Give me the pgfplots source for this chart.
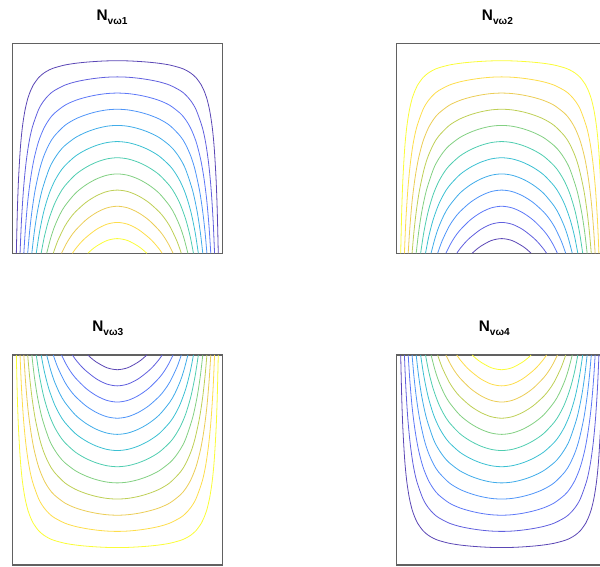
\documentclass[border=0pt]{standalone}
\usepackage{fontspec}
\setmainfont{Liberation Sans}
\usepackage{pgfplots}
\pgfplotsset{compat=1.18}
\definecolor{axgray}{rgb}{0.38,0.38,0.38}
\definecolor{qa1}{rgb}{0.2422,0.1504,0.6603}
\definecolor{qa2}{rgb}{0.2669,0.2601,0.8496}
\definecolor{qa3}{rgb}{0.253,0.379,0.961}
\definecolor{qa4}{rgb}{0.188,0.510,0.967}
\definecolor{qa5}{rgb}{0.119,0.619,0.898}
\definecolor{qa6}{rgb}{0.096,0.711,0.794}
\definecolor{qa7}{rgb}{0.189,0.768,0.637}
\definecolor{qa8}{rgb}{0.424,0.782,0.424}
\definecolor{qa9}{rgb}{0.702,0.778,0.222}
\definecolor{qa10}{rgb}{0.908,0.770,0.221}
\definecolor{qa11}{rgb}{0.990,0.845,0.169}
\definecolor{qa12}{rgb}{0.9769,0.9839,0.0805}
\colorlet{pa1}{qa1!85!white}\colorlet{pa2}{qa2!85!white}\colorlet{pa3}{qa3!85!white}
\colorlet{pa4}{qa4!85!white}\colorlet{pa5}{qa5!85!white}\colorlet{pa6}{qa6!85!white}
\colorlet{pa7}{qa7!85!white}\colorlet{pa8}{qa8!85!white}\colorlet{pa9}{qa9!85!white}
\colorlet{pa10}{qa10!85!white}\colorlet{pa11}{qa11!85!white}\colorlet{pa12}{qa12!85!white}
\colorlet{pb1}{pa12}\colorlet{pb2}{pa11}\colorlet{pb3}{pa10}\colorlet{pb4}{pa9}
\colorlet{pb5}{pa8}\colorlet{pb6}{pa7}\colorlet{pb7}{pa6}\colorlet{pb8}{pa5}
\colorlet{pb9}{pa4}\colorlet{pb10}{pa3}\colorlet{pb11}{pa2}\colorlet{pb12}{pa1}
\newcommand{\contours}[1]{%
\addplot[color=#11] coordinates {(0.0192,0) (0.0240,0.2) (0.0295,0.35) (0.0383,0.5) (0.0479,0.6) (0.0602,0.68) (0.0745,0.74) (0.0895,0.78) (0.1,0.8015) (0.125,0.8361) (0.15,0.858) (0.175,0.8728) (0.2,0.8831) (0.25,0.8965) (0.3,0.9046) (0.35,0.91) (0.4,0.9137) (0.45,0.9162) (0.5,0.917) (0.55,0.9162) (0.6,0.9137) (0.65,0.91) (0.7,0.9046) (0.75,0.8965) (0.8,0.8831) (0.825,0.8728) (0.85,0.858) (0.875,0.8361) (0.9,0.8015) (0.9105,0.78) (0.9255,0.74) (0.9398,0.68) (0.9521,0.6) (0.9617,0.5) (0.9705,0.35) (0.976,0.2) (0.9808,0)};
\addplot[color=#12] coordinates {(0.0369,0) (0.0434,0.15) (0.0529,0.3) (0.0642,0.42) (0.0781,0.52) (0.0953,0.6) (0.125,0.684) (0.15,0.7262) (0.175,0.7548) (0.2,0.7747) (0.25,0.8006) (0.3,0.8162) (0.35,0.8264) (0.4,0.8337) (0.45,0.8384) (0.5,0.84) (0.55,0.8384) (0.6,0.8337) (0.65,0.8264) (0.7,0.8162) (0.75,0.8006) (0.8,0.7747) (0.825,0.7548) (0.85,0.7262) (0.875,0.684) (0.9047,0.6) (0.9219,0.52) (0.9358,0.42) (0.9471,0.3) (0.9566,0.15) (0.9631,0)};
\addplot[color=#13] coordinates {(0.0549,0) (0.0626,0.12) (0.0738,0.25) (0.0877,0.36) (0.1036,0.45) (0.125,0.532) (0.15,0.5945) (0.175,0.6367) (0.2,0.6663) (0.25,0.7046) (0.3,0.7277) (0.35,0.7429) (0.4,0.7537) (0.45,0.7606) (0.5,0.763) (0.55,0.7606) (0.6,0.7537) (0.65,0.7429) (0.7,0.7277) (0.75,0.7046) (0.8,0.6663) (0.825,0.6367) (0.85,0.5945) (0.875,0.532) (0.8964,0.45) (0.9123,0.36) (0.9262,0.25) (0.9374,0.12) (0.9451,0)};
\addplot[color=#14] coordinates {(0.0733,0) (0.0821,0.1) (0.0934,0.2) (0.1086,0.3) (0.1304,0.4) (0.15,0.4627) (0.175,0.5187) (0.2,0.5579) (0.25,0.6086) (0.3,0.6392) (0.35,0.6594) (0.4,0.6737) (0.45,0.6828) (0.5,0.686) (0.55,0.6828) (0.6,0.6737) (0.65,0.6594) (0.7,0.6392) (0.75,0.6086) (0.8,0.5579) (0.825,0.5187) (0.85,0.4627) (0.8696,0.4) (0.8914,0.3) (0.9066,0.2) (0.9179,0.1) (0.9267,0)};
\addplot[color=#15] coordinates {(0.0930,0) (0.1046,0.1) (0.12,0.2) (0.1417,0.3) (0.175,0.4007) (0.2,0.4495) (0.225,0.4854) (0.25,0.5127) (0.3,0.5507) (0.35,0.5759) (0.4,0.5936) (0.45,0.605) (0.5,0.609) (0.55,0.605) (0.6,0.5936) (0.65,0.5759) (0.7,0.5507) (0.75,0.5127) (0.775,0.4854) (0.8,0.4495) (0.825,0.4007) (0.8583,0.3) (0.88,0.2) (0.8954,0.1) (0.907,0)};
\addplot[color=#16] coordinates {(0.1141,0) (0.1294,0.1) (0.1502,0.2) (0.175,0.2827) (0.2,0.3411) (0.225,0.384) (0.25,0.4167) (0.3,0.4623) (0.35,0.4924) (0.4,0.5136) (0.45,0.5272) (0.5,0.532) (0.55,0.5272) (0.6,0.5136) (0.65,0.4924) (0.7,0.4623) (0.75,0.4167) (0.775,0.384) (0.8,0.3411) (0.825,0.2827) (0.8498,0.2) (0.8706,0.1) (0.8859,0)};
\addplot[color=#17] coordinates {(0.1374,0) (0.1529,0.08) (0.1737,0.16) (0.2,0.2327) (0.225,0.2827) (0.25,0.3207) (0.3,0.3738) (0.35,0.4088) (0.4,0.4336) (0.45,0.4494) (0.5,0.455) (0.55,0.4494) (0.6,0.4336) (0.65,0.4088) (0.7,0.3738) (0.75,0.3207) (0.775,0.2827) (0.8,0.2327) (0.8263,0.16) (0.8471,0.08) (0.8626,0)};
\addplot[color=#18] coordinates {(0.1638,0) (0.1821,0.07) (0.2,0.1243) (0.225,0.1814) (0.25,0.2247) (0.3,0.2853) (0.35,0.3253) (0.4,0.3536) (0.45,0.3716) (0.5,0.378) (0.55,0.3716) (0.6,0.3536) (0.65,0.3253) (0.7,0.2853) (0.75,0.2247) (0.775,0.1814) (0.8,0.1243) (0.8179,0.07) (0.8362,0)};
\addplot[color=#19] coordinates {(0.1951,0) (0.2168,0.06) (0.25,0.1288) (0.275,0.1667) (0.3,0.1968) (0.35,0.2418) (0.4,0.2735) (0.45,0.2939) (0.5,0.301) (0.55,0.2939) (0.6,0.2735) (0.65,0.2418) (0.7,0.1968) (0.725,0.1667) (0.75,0.1288) (0.7832,0.06) (0.8049,0)};
\addplot[color=#110] coordinates {(0.2345,0) (0.2541,0.04) (0.275,0.0749) (0.3,0.1083) (0.35,0.1583) (0.4,0.1935) (0.45,0.2161) (0.5,0.224) (0.55,0.2161) (0.6,0.1935) (0.65,0.1583) (0.7,0.1083) (0.725,0.0749) (0.7459,0.04) (0.7655,0)};
\addplot[color=#111] coordinates {(0.2863,0) (0.3,0.0199) (0.325,0.0498) (0.35,0.0747) (0.4,0.1135) (0.45,0.1383) (0.5,0.147) (0.55,0.1383) (0.6,0.1135) (0.65,0.0747) (0.675,0.0498) (0.7,0.0199) (0.7137,0)};
\addplot[color=#112] coordinates {(0.3595,0) (0.375,0.0141) (0.4,0.0335) (0.45,0.0605) (0.5,0.07) (0.55,0.0605) (0.6,0.0335) (0.625,0.0141) (0.6405,0)};
}
\pgfplotsset{cont/.style={width=157.5pt,height=157.5pt,scale only axis,
  xmin=0,xmax=1,ymin=0,ymax=1,ticks=none,anchor=south west,
  axis line style={draw=axgray,line width=1.1pt},
  every axis plot/.append style={smooth,line width=0.6pt},
  every axis title/.style={font=\bfseries\fontsize{11.5}{12}\selectfont,anchor=base west,inner sep=0pt,yshift=17.25pt}}}
\newcommand{\ttl}[1]{N\raisebox{-2.8pt}{\fontsize{7.6}{8}\selectfont vω#1}}
\begin{document}
\begin{tikzpicture}
\useasboundingbox (0,0) rectangle (450pt,425.25pt);
\clip (0,0) rectangle (450pt,425.25pt);
\begin{axis}[cont,at={(9.225pt,235.275pt)},title={\ttl{1}},title style={at={(0.40,1)}}]
\contours{pa}
\end{axis}
\begin{axis}[cont,at={(297.5pt,235.275pt)},title={\ttl{2}},title style={at={(0.405,1)}}]
\contours{pb}
\end{axis}
\begin{axis}[cont,at={(9.225pt,1.5pt)},y dir=reverse,title={\ttl{3}},title style={at={(0.38,1)}}]
\contours{pb}
\end{axis}
\begin{axis}[cont,at={(297.5pt,1.5pt)},y dir=reverse,title={\ttl{4}},title style={at={(0.39,1)}}]
\contours{pa}
\end{axis}
\end{tikzpicture}
\end{document}
